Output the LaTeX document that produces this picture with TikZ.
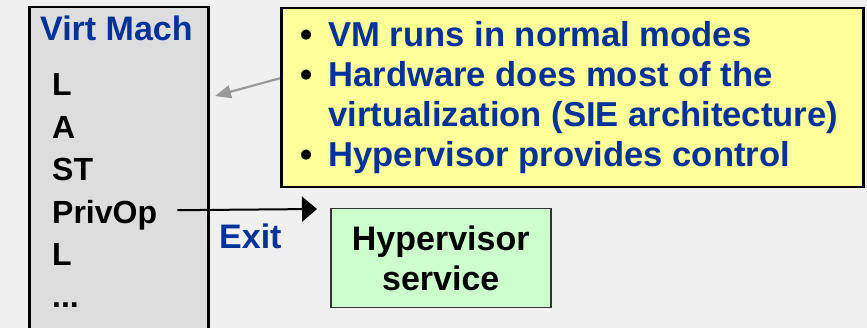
\documentclass[tikz,border=0pt]{standalone}
\usepackage{fontspec}
\setmainfont{Liberation Sans}
\usetikzlibrary{arrows.meta}
\usetikzlibrary{positioning}
\definecolor{vmblue}{RGB}{0,51,153}
\definecolor{bggray}{RGB}{240,240,240}
\definecolor{vmgray}{RGB}{221,221,221}
\definecolor{noteyellow}{RGB}{255,255,153}
\definecolor{svcgreen}{RGB}{204,255,204}
\definecolor{pointergray}{RGB}{153,153,153}
\tikzset{op node/.style={inner sep=0pt,text height=24pt,text depth=7pt,font=\fontsize{32}{38}\selectfont\bfseries}}
\tikzset{blue label/.style={inner sep=0pt,text=vmblue,font=\fontsize{34}{40}\selectfont\bfseries}}
\tikzset{box node/.style={draw,anchor=north west,inner sep=0pt}}
\newcommand{\notebullet}{\makebox[22pt][l]{\hspace*{-6pt}\color{black}\textbullet}}

\begin{document}
\begin{tikzpicture}[x=1pt,y=-1pt]
    \path[use as bounding box,fill=bggray] (0,0) rectangle (867,328);
    % virtual machine, running off the bottom
    \node[box node,line width=2.5pt,fill=vmgray,minimum width=179pt,minimum height=340pt] (vm) at (28,6) {};
    \node[blue label,anchor=base west] (title) at (40,41) {Virt Mach};
    \node[op node,anchor=base west] (op_{1}) at (52,96) {L};
    \node[op node,below=11pt of op_{1}.south west,anchor=north west] (op_{2}) {A};
    \node[op node,below=11pt of op_{2}.south west,anchor=north west] (op_{3}) {ST};
    \node[op node,below=11pt of op_{3}.south west,anchor=north west] (op_{4}) {PrivOp};
    \node[op node,below=11pt of op_{4}.south west,anchor=north west] (op_{5}) {L};
    \node[op node,below=11pt of op_{5}.south west,anchor=north west] (op_{6}) {...};

    % note box
    \node[box node,line width=2.5pt,fill=noteyellow,minimum width=582pt,minimum height=179pt,align=left,text=vmblue,font=\fontsize{34.6}{40}\selectfont\bfseries] (note) at (280,7)
        {\notebullet VM runs in normal modes\\
         \notebullet Hardware does most of the\\
         \hspace*{22pt}virtualization (SIE architecture)\\
         \notebullet Hypervisor provides control};
    \coordinate (pointer) at (215,96);
    \draw[-{Triangle[length=16pt,width=13pt]},line width=2.2pt,pointergray] ([yshift=19.5pt]note.west) -- (pointer);

    % exit to the hypervisor
    \coordinate (exitend) at (317,209);
    \draw[-{Triangle[length=15pt,width=25pt]},line width=2pt] ([xshift=20pt,yshift=4.5pt]op_{4}.east) -- (exitend);
    \node[blue label,anchor=base west] (exit) at (219,249) {Exit};
    \node[box node,line width=1.5pt,draw=black!80,fill=svcgreen,minimum width=220pt,minimum height=99pt,align=center,font=\fontsize{34}{40}\selectfont\bfseries] (svc) at (330,208) {Hypervisor\\service};
\end{tikzpicture}
\end{document}
